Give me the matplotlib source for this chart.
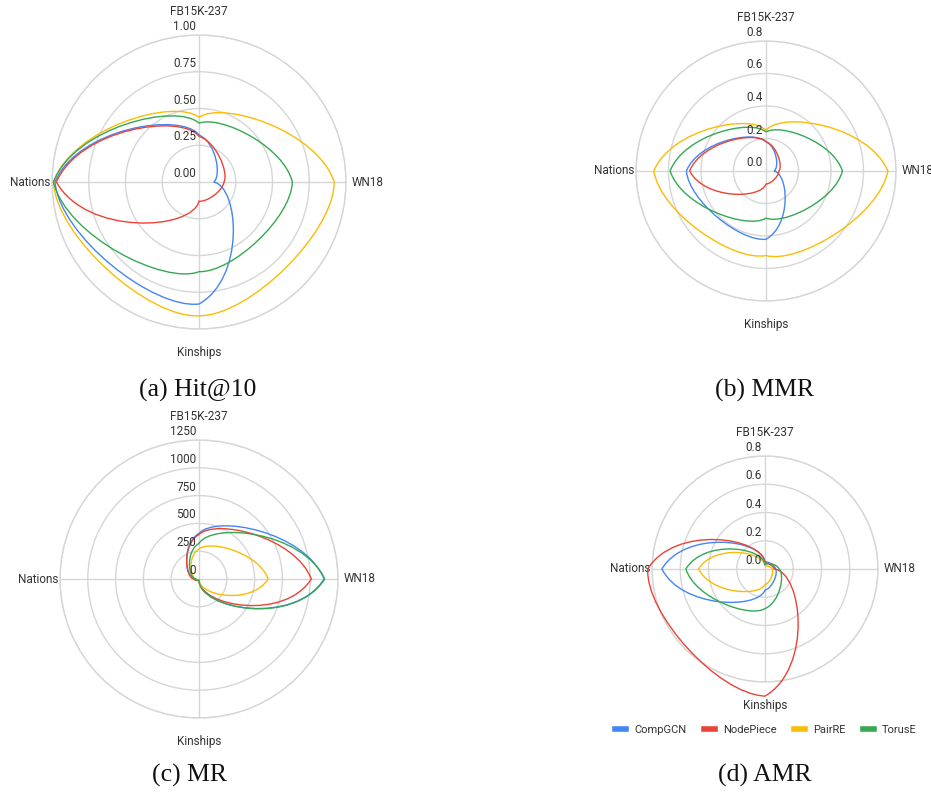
import numpy as np
import matplotlib
matplotlib.use("Agg")
import matplotlib.pyplot as plt
from matplotlib.lines import Line2D
from matplotlib.path import Path
from matplotlib.patches import PathPatch

datasets = ["FB15K-237", "WN18", "Kinships", "Nations"]
models = ["CompGCN", "NodePiece", "PairRE", "TorusE"]
colors = ["#4285F4", "#EA4335", "#FBBC04", "#34A853"]

# values per model, in dataset order
hit10_compgcn = [0.32, 0.10, 0.83, 0.98]
hit10_nodepiece = [0.31, 0.17, 0.13, 0.97]
hit10_pairre = [0.44, 0.92, 0.91, 0.99]
hit10_toruse = [0.40, 0.635, 0.61, 0.99]

mmr_compgcn = [0.18, 0.05, 0.42, 0.49]
mmr_nodepiece = [0.18, 0.08, 0.08, 0.47]
mmr_pairre = [0.25, 0.75, 0.52, 0.69]
mmr_toruse = [0.24, 0.47, 0.29, 0.59]

mr_compgcn = [410, 1125, 8, 40]
mr_nodepiece = [400, 1010, 8, 45]
mr_pairre = [270, 622, 8, 25]
mr_toruse = [320, 1130, 8, 30]

amr_compgcn = [0.05, 0.075, 0.15, 0.73]
amr_nodepiece = [0.04, 0.065, 0.90, 0.83]
amr_pairre = [0.02, 0.05, 0.11, 0.47]
amr_toruse = [0.03, 0.10, 0.28, 0.56]

hit10_ticks = [0, 0.25, 0.5, 0.75, 1.0]
hit10_labels = ["0.00", "0.25", "0.50", "0.75", "1.00"]
small_ticks = [0, 0.2, 0.4, 0.6, 0.8]
small_labels = ["0.0", "0.2", "0.4", "0.6", "0.8"]
mr_ticks = [0, 250, 500, 750, 1000, 1250]
mr_labels = ["0", "250", "500", "750", "1000", "1250"]

# FB15K-237 up, WN18 right, Kinships down, Nations left (clockwise)
angles = [np.pi / 2, 0, -np.pi / 2, -np.pi]

TXT = "#333333"
GRID = "#d6d6d6"
FONT = "Roboto"
SMOOTH = 0.72  # handle length of the smoothed segments

W, H = 931, 795
fig = plt.figure(figsize=(W / 100, H / 100), dpi=100)


def smooth_path(vals):
    # closed cubic-bezier outline through the data points, handles
    # following the direction of the polar spiral between neighbours
    th = angles + [angles[0] - 2 * np.pi]
    rr = list(vals) + [vals[0]]
    def cart(t, r):
        return np.array([r * np.cos(t), r * np.sin(t)])
    def deriv(t, r, dr, dt):
        return dr * np.array([np.cos(t), np.sin(t)]) + \
            r * dt * np.array([-np.sin(t), np.cos(t)])
    pts = [cart(th[0], rr[0])]
    codes = [Path.MOVETO]
    for i in range(4):
        dt = th[i + 1] - th[i]
        dr = rr[i + 1] - rr[i]
        p0 = cart(th[i], rr[i])
        p1 = cart(th[i + 1], rr[i + 1])
        c1 = p0 + SMOOTH / 3 * deriv(th[i], rr[i], dr, dt)
        c2 = p1 - SMOOTH / 3 * deriv(th[i + 1], rr[i + 1], dr, dt)
        pts += [c1, c2, p1]
        codes += [Path.CURVE4] * 3
    pts = np.array(pts)
    # back to (theta, r) so the polar axes places it
    polar = np.column_stack([np.arctan2(pts[:, 1], pts[:, 0]),
                             np.hypot(pts[:, 0], pts[:, 1])])
    return Path(polar, codes)


def add_radar(cx, cy, r, series, ticks, labels, caption, cap_x, cap_y):
    ax = fig.add_axes([(cx - r) / W, 1 - (cy + r) / H, 2 * r / W, 2 * r / H],
                      projection="polar")
    ax.set_ylim(0, ticks[-1])
    ax.set_yticks(ticks[1:])
    ax.set_yticklabels([])
    ax.set_xticks([0, np.pi / 2, np.pi, 3 * np.pi / 2])
    ax.set_xticklabels([])
    ax.tick_params(length=0)
    ax.grid(True, color=GRID, lw=1.0)
    ax.spines["polar"].set_color(GRID)
    ax.spines["polar"].set_linewidth(1.0)
    ax.patch.set_alpha(0)

    for t, lab in zip(ticks, labels):
        ax.annotate(lab, xy=(np.pi / 2, t), xytext=(-3, 2),
                    textcoords="offset pixels", ha="right", va="bottom",
                    fontsize=8.5, color=TXT, family=FONT, zorder=5)

    top = ticks[-1]
    offs = [(0, 17, "center", "bottom"), (6, 0, "left", "center"),
            (0, -17, "center", "top"), (-2, 0, "right", "center")]
    for name, a, (dx, dy, ha, va) in zip(datasets, angles, offs):
        ax.annotate(name, xy=(a, top), xytext=(dx, dy),
                    textcoords="offset pixels", ha=ha, va=va,
                    fontsize=8.5, color=TXT, family=FONT,
                    annotation_clip=False)

    for vals, c in zip(series, colors):
        ax.add_patch(PathPatch(smooth_path(vals), fill=False, edgecolor=c,
                               lw=1.0, clip_on=False, zorder=3))

    fig.text(cap_x / W, 1 - cap_y / H, caption, ha="center", va="center",
             fontsize=18.5, family="Liberation Serif", color="#111111")
    return ax


add_radar(199, 182, 147,
          [hit10_compgcn, hit10_nodepiece, hit10_pairre, hit10_toruse],
          hit10_ticks, hit10_labels, "(a) Hit@10", 198, 390)
add_radar(766, 171, 130,
          [mmr_compgcn, mmr_nodepiece, mmr_pairre, mmr_toruse],
          small_ticks, small_labels, "(b) MMR", 765, 390)
add_radar(199, 579, 139,
          [mr_compgcn, mr_nodepiece, mr_pairre, mr_toruse],
          mr_ticks, mr_labels, "(c) MR", 190, 775)
add_radar(765, 569, 113,
          [amr_compgcn, amr_nodepiece, amr_pairre, amr_toruse],
          small_ticks, small_labels, "(d) AMR", 765, 775)

handles = [Line2D([0], [0], color=c, lw=4) for c in colors]
fig.legend(handles, models, loc="center", bbox_to_anchor=(766 / W, 1 - 730 / H),
           ncol=4, frameon=False, handlelength=1.0, handletextpad=0.7,
           columnspacing=1.6, prop={"family": FONT, "size": 8}, labelcolor=TXT)

fig.savefig("out.png", dpi=100)
